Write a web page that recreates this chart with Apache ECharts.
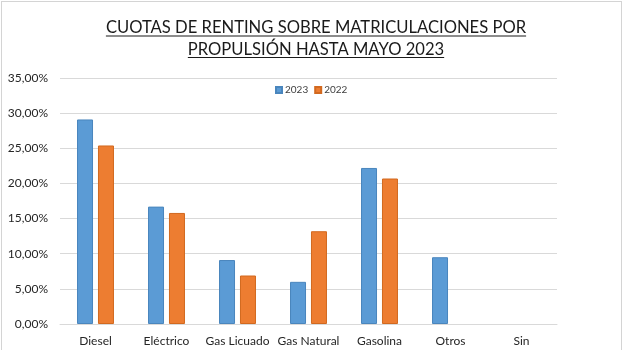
<!DOCTYPE html>
<html>
<head>
<meta charset="utf-8">
<script src="https://cdn.jsdelivr.net/npm/echarts@6/dist/echarts.min.js"></script>
<style>
html,body{margin:0;padding:0;background:#fff;}
#frame{position:absolute;left:1px;top:1px;width:621px;height:360px;border:1px solid #d4d4d4;box-sizing:border-box;}
#chart{position:absolute;left:0;top:0;width:624px;height:350px;}
</style>
</head>
<body>
<div id="frame"></div>
<div id="chart"></div>
<script>
const titleLines = ['CUOTAS DE RENTING SOBRE MATRICULACIONES POR', 'PROPULSIÓN HASTA MAYO 2023'];
const categories = ['Diesel', 'Eléctrico', 'Gas Licuado', 'Gas Natural', 'Gasolina', 'Otros', 'Sin'];
const seriesNames = ['2023', '2022'];
const values2023 = [29.1, 16.7, 9.1, 6.0, 22.2, 9.5, 0];
const values2022 = [25.4, 15.8, 6.9, 13.2, 20.7, 0, 0];
const yTicks = { min: 0, max: 35, interval: 5 };

const FONT = 'Lato, "Open Sans", sans-serif';
const titleSize = 16.6;
const titleCx = 316;
const lineYs = [28, 49.5];

function measure(text, size) {
  const c = document.createElement('canvas').getContext('2d');
  c.font = size + 'px ' + FONT;
  return c.measureText(text).width;
}

const chart = echarts.init(document.getElementById('chart'), null, { renderer: 'canvas' });

const graphics = titleLines.map((t, i) => ({
  type: 'text', x: titleCx, y: lineYs[i],
  style: { text: t, font: titleSize + 'px ' + FONT, fill: '#1a1a1a', align: 'center', verticalAlign: 'middle' }
}));
titleLines.forEach((t, i) => {
  const w = measure(t, titleSize);
  graphics.push({
    type: 'line', silent: true,
    shape: { x1: titleCx - w / 2, y1: lineYs[i] + 8, x2: titleCx + w / 2, y2: lineYs[i] + 8 },
    style: { stroke: '#1a1a1a', lineWidth: 1.2 }
  });
});

const hideZero = arr => arr.map(v => (v === 0 ? '-' : v));

chart.setOption({
  animation: false,
  textStyle: { fontFamily: FONT },
  legend: {
    data: seriesNames,
    left: 270, top: 80,
    icon: 'rect', itemWidth: 6, itemHeight: 6, itemGap: 6,
    textStyle: { fontSize: 10, color: '#404040', padding: [0, 0, 0, -2] }
  },
  grid: { left: 60, right: 67, top: 78, bottom: 26, containLabel: false },
  xAxis: {
    type: 'category', data: categories,
    axisLine: { lineStyle: { color: '#d9d9d9' } },
    axisTick: { show: false },
    axisLabel: { color: '#262626', fontSize: 12, margin: 11, interval: 0 }
  },
  yAxis: {
    type: 'value', min: yTicks.min, max: yTicks.max, interval: yTicks.interval,
    axisLine: { show: false }, axisTick: { show: false },
    splitLine: { lineStyle: { color: '#d9d9d9' } },
    axisLabel: {
      color: '#262626', fontSize: 12, margin: 12,
      formatter: v => v.toFixed(2).replace('.', ',') + '%'
    }
  },
  series: [
    { name: seriesNames[0], type: 'bar', data: hideZero(values2023), barWidth: 16, barGap: '31%',
      itemStyle: { color: '#5b9bd5', borderColor: '#4a86bd', borderWidth: 1 } },
    { name: seriesNames[1], type: 'bar', data: hideZero(values2022), barWidth: 16, barGap: '31%',
      itemStyle: { color: '#ed7d31', borderColor: '#d2691f', borderWidth: 1 } }
  ],
  graphic: graphics
});
</script>
</body>
</html>
